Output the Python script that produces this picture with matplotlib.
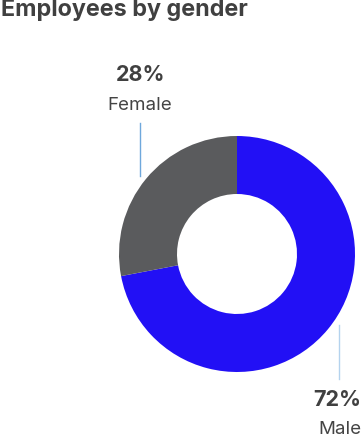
import matplotlib.pyplot as plt

categories = ["Male", "Female"]
shares = [72, 28]
pct_labels = ["72%", "28%"]
colors = ["#2210F5", "#5A5B5D"]

W, H = 363, 436
fig = plt.figure(figsize=(W / 100, H / 100), dpi=100)
ax = fig.add_axes([0, 0, 1, 1])

ax.pie(
    shares,
    colors=colors,
    startangle=90,
    counterclock=False,
    center=(237, H - 254),
    radius=118,
    wedgeprops=dict(width=58, linewidth=0),
    frame=True,
)
ax.set_xlim(0, W)
ax.set_ylim(0, H)
ax.set_aspect("equal")
ax.axis("off")

fam = ["Inter", "DejaVu Sans"]
fig.text(0.002, 1 - 10 / H, "Employees by gender", fontsize=16.8, fontweight="bold",
         color="#404040", ha="left", va="center", family=fam)

# Female callout (upper left)
ax.plot([140, 140], [H - 123, H - 176], color="#6fa8dc", lw=1)
ax.text(141, H - 75, pct_labels[1], fontsize=15.5, fontweight="bold", color="#404040",
        ha="center", va="center", family=fam)
ax.text(140, H - 105, categories[1], fontsize=13.5, color="#444444",
        ha="center", va="center", family=fam)

# Male callout (lower right), kept inside the right edge
ax.plot([339, 339], [H - 325, H - 379], color="#b4d3ee", lw=1)
ax.text(361, H - 400, pct_labels[0], fontsize=15.5, fontweight="bold", color="#404040",
        ha="right", va="center", family=fam)
ax.text(361, H - 429, categories[0], fontsize=13.5, color="#444444",
        ha="right", va="center", family=fam)

fig.savefig("out.png", dpi=100)
